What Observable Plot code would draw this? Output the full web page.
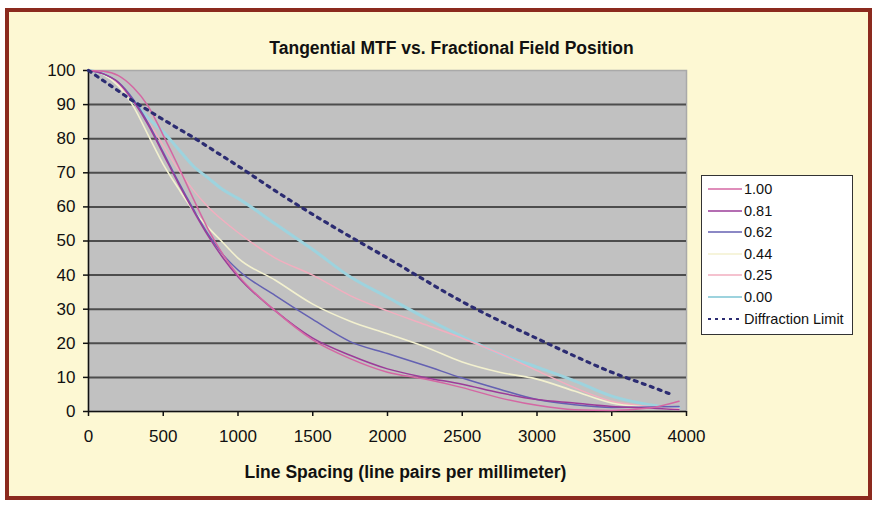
<!DOCTYPE html>
<html><head><meta charset="utf-8">
<script src="https://cdn.jsdelivr.net/npm/d3@7"></script>
<script src="https://cdn.jsdelivr.net/npm/@observablehq/plot@0.6"></script>
<style>
html,body{margin:0;padding:0;background:#fff}
body{width:876px;height:505px;overflow:hidden;position:relative;font-family:"Liberation Sans",Arial,sans-serif}
#frame{position:absolute;left:5px;top:8px;width:859px;height:484px;border:4px solid #8b2a1e;background:#fdf8d3}
#chart{position:absolute;left:0;top:0}
#legend{position:absolute;left:701px;top:175px;width:152px;height:160px;border:1px solid #333;background:#fff;box-sizing:border-box}
.row{position:absolute;left:6px;height:20px;display:flex;align-items:center;font-size:14.5px;color:#111}
.row svg{display:block;margin-right:2px}
</style></head>
<body>
<div id="frame"></div>
<div id="chart"></div>
<div id="legend"></div>
<script>
const title = "Tangential MTF vs. Fractional Field Position";
const xLabel = "Line Spacing (line pairs per millimeter)";
const xTicks = [0, 500, 1000, 1500, 2000, 2500, 3000, 3500, 4000];
const yTicks = [0, 10, 20, 30, 40, 50, 60, 70, 80, 90, 100];
const gridValues = [10, 20, 30, 40, 50, 60, 70, 80, 90];

const xs = [0, 100, 200, 300, 400, 500, 600, 700, 800, 900, 1000, 1250, 1500, 1750, 2000, 2250, 2500, 2750, 3000, 3250, 3500, 3750, 3950];
const names = ["1.00", "0.81", "0.62", "0.44", "0.25", "0.00"];
const f100 = [100, 99.8, 98.5, 95, 89.5, 81, 72, 62.5, 53.5, 46, 40, 29.5, 21, 15.5, 11.5, 9.5, 7, 4, 1.8, 0.5, 0.3, 1, 3];
const f081 = [100, 99, 96.5, 91, 84, 75.5, 67, 59, 51.5, 45, 39.5, 29.5, 21.5, 16.5, 12.5, 10, 8, 5.5, 3.5, 2.5, 1.5, 1, 0.5];
const f062 = [100, 99, 96.5, 91.5, 84.5, 76, 67.5, 59.5, 52, 46, 41.5, 34, 27, 20.5, 17, 13.5, 9.8, 6.5, 3.5, 2, 1.2, 1.3, 1.5];
const f044 = [100, 98.8, 95.5, 89.5, 81, 72.5, 65.5, 59, 54, 49.5, 45, 38.5, 31.5, 26.5, 22.8, 19, 14.5, 11.5, 9.5, 6, 2.5, 1.2, 0.5];
const f025 = [100, 99, 96, 91, 85, 78, 71, 65, 60, 56, 52.5, 45, 40, 34, 29.5, 25.5, 21.5, 17, 12, 7, 3, 1.5, 0.8];
const f000 = [100, 99, 96, 91, 86, 82, 77, 72, 68.5, 65, 62.5, 55, 47.5, 39.5, 33.5, 27.5, 22, 17, 13, 9, 4.5, 2, 1];
const diffX = [0, 100, 200, 300, 400, 500, 600, 700, 800, 900, 1000, 1250, 1500, 1750, 2000, 2250, 2500, 2750, 3000, 3250, 3500, 3750, 3900];
const diffY = [100, 97, 94, 91, 88.3, 85.6, 83, 80.4, 77.6, 74.8, 72, 64.7, 57.8, 51.3, 45, 38.5, 32.2, 26.6, 21.4, 16.3, 11.5, 7.5, 5];
const diffName = "Diffraction Limit";

const seriesValues = [f100, f081, f062, f044, f025, f000];
const colors = {"1.00": "#d467a3", "0.81": "#9b3c99", "0.62": "#6461b2", "0.44": "#f3f1cf", "0.25": "#f2aebf", "0.00": "#9dd3de"};
const widths = {"1.00": 1.5, "0.81": 1.5, "0.62": 1.5, "0.44": 1.6, "0.25": 1.5, "0.00": 3};
const diffColor = "#2c2c72";

const rows = [];
names.forEach((n, i) => xs.forEach((x, j) => rows.push({name: n, x, v: seriesValues[i][j]})));
const diffRows = diffX.map((x, j) => ({x, v: diffY[j]}));

const font = "Liberation Sans, Arial, sans-serif";
const lineMarks = names.slice().reverse().map(n =>
  Plot.line(rows.filter(r => r.name === n), {x: "x", y: "v", stroke: colors[n], strokeWidth: widths[n], curve: "monotone-x"})
);

const chart = Plot.plot({
  width: 876, height: 505,
  marginLeft: 88, marginRight: 190, marginTop: 70, marginBottom: 94,
  style: {background: "transparent", fontFamily: font, color: "#111"},
  x: {domain: [0, 4000]},
  y: {domain: [0, 100]},
  marks: [
    Plot.frame({fill: "#c1c1c1", stroke: "#a9a9a9", strokeWidth: 1.5}),
    Plot.ruleY(gridValues, {stroke: "#4d4d4d", strokeWidth: 2}),
    Plot.axisY({ticks: yTicks, tickSize: 5, tickPadding: 8, fontSize: 17, stroke: "#111", strokeWidth: 1.5, label: null}),
    Plot.axisX({ticks: xTicks, tickFormat: d => String(d), tickSize: 5, tickPadding: 13, fontSize: 17, stroke: "#111", strokeWidth: 1.5, label: null}),
    Plot.ruleX([0], {stroke: "#111", strokeWidth: 1.5}),
    Plot.ruleY([0], {stroke: "#111", strokeWidth: 1.5}),
    ...lineMarks,
    Plot.line(diffRows, {x: "x", y: "v", stroke: diffColor, strokeWidth: 3.2, strokeDasharray: "3,5.5", curve: "monotone-x"}),
    Plot.text([title], {frameAnchor: "top", dx: 64, dy: -29, fontSize: 17.5, fontWeight: "bold", fill: "#111"}),
    Plot.text([xLabel], {frameAnchor: "bottom", dx: 18, dy: 66, fontSize: 17.5, fontWeight: "bold", fill: "#111"})
  ]
});
document.getElementById("chart").appendChild(chart);

// legend
const legend = document.getElementById("legend");
const entries = names.map(n => ({name: n, color: colors[n], dash: null, w: n === "0.00" ? 2 : 1.6}));
entries.push({name: diffName, color: diffColor, dash: "3,4", w: 2.2});
entries.forEach((e, i) => {
  const row = document.createElement("div");
  row.className = "row";
  row.style.top = (3 + i * 21.6) + "px";
  const s = d3.create("svg").attr("width", 34).attr("height", 10);
  s.append("line").attr("x1", 0).attr("x2", 34).attr("y1", 5).attr("y2", 5)
    .attr("stroke", e.color).attr("stroke-width", e.w).attr("stroke-dasharray", e.dash);
  row.appendChild(s.node());
  const t = document.createElement("span");
  t.textContent = e.name;
  row.appendChild(t);
  legend.appendChild(row);
});
</script>
</body></html>
